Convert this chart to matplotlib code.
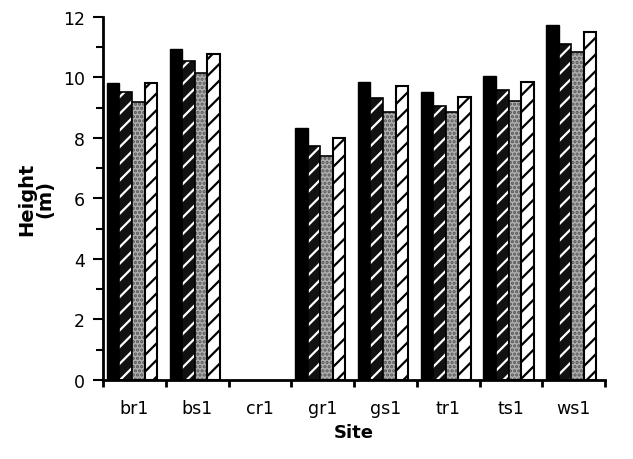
import matplotlib.pyplot as plt
import numpy as np

# sites along the x axis
sites = ['br1', 'bs1', 'cr1', 'gr1', 'gs1', 'tr1', 'ts1', 'ws1']

# heights (m) for the four series, cr1 has no bars
solid = [9.82, 10.94, np.nan, 8.33, 9.85, 9.52, 10.05, 11.74]
dense_hatch = [9.52, 10.55, np.nan, 7.74, 9.32, 9.06, 9.59, 11.10]
stipple = [9.18, 10.15, np.nan, 7.40, 8.86, 8.86, 9.23, 10.84]
white_hatch = [9.82, 10.78, np.nan, 8.00, 9.72, 9.36, 9.85, 11.50]

plt.rcParams['hatch.linewidth'] = 1.6

fig = plt.figure(figsize=(6.33, 4.6), dpi=100)
ax = fig.add_axes([0.163, 0.172, 0.793, 0.789])

x = np.arange(len(sites))
w = 0.2
shift = -0.04

# solid black
ax.bar(x + shift - 1.5 * w, solid, w, color='black', edgecolor='black', lw=1)
# black with white dashes
ax.bar(x + shift - 0.5 * w, dense_hatch, w, color='#111111', edgecolor='white',
       hatch='//', lw=0)
ax.bar(x + shift - 0.5 * w, dense_hatch, w, fill=False, edgecolor='black', lw=1.2)
# grey stipple
ax.bar(x + shift + 0.5 * w, stipple, w, color='#b0b0b0', edgecolor='#555555',
       hatch='....', lw=0)
ax.bar(x + shift + 0.5 * w, stipple, w, fill=False, edgecolor='black', lw=1.2)
# white with black stripes
ax.bar(x + shift + 1.5 * w, white_hatch, w, color='white', edgecolor='black',
       hatch='//', lw=1.5)

ax.set_xlim(-0.5, len(sites) - 0.5)
ax.set_ylim(0, 12)

ax.set_xticks(np.arange(len(sites) + 1) - 0.5)
ax.set_xticklabels([])
ax.set_xticks(x, minor=True)
ax.set_xticklabels(sites, minor=True)
ax.tick_params(axis='x', which='major', direction='out', length=5, width=2)
ax.tick_params(axis='x', which='minor', length=0, pad=14, labelsize=12.5)

ax.set_yticks(np.arange(0, 13, 2))
ax.set_yticks(np.arange(1, 12, 2), minor=True)
ax.tick_params(axis='y', which='major', direction='out', length=7, width=1.5,
               labelsize=12.5, pad=6)
ax.tick_params(axis='y', which='minor', direction='out', length=5, width=1.5)

for s in ['top', 'right']:
    ax.spines[s].set_visible(False)
for s in ['left', 'bottom']:
    ax.spines[s].set_linewidth(2)

ax.set_xlabel('Site', fontsize=13, fontweight='bold', labelpad=4)
ax.set_ylabel('Height\n(m)', fontsize=14, fontweight='bold', labelpad=6,
              linespacing=1.0)

fig.savefig('out.png', dpi=100)
